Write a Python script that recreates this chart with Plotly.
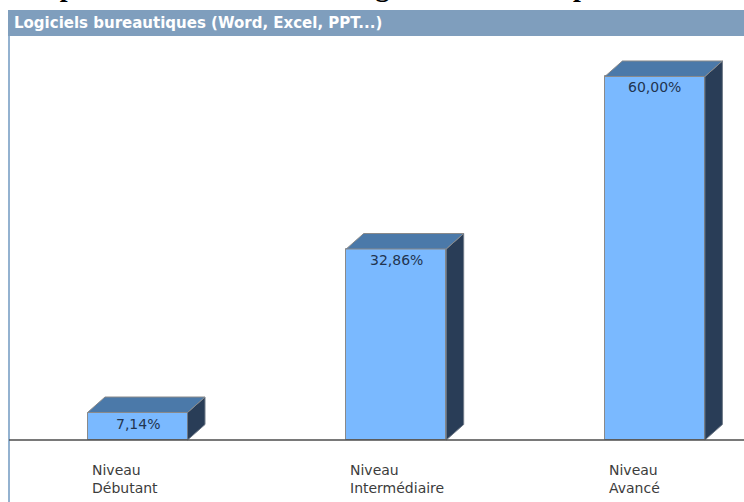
import plotly.graph_objects as go

# Données
niveaux = ["Niveau<br>Débutant", "Niveau<br>Intermédiaire", "Niveau<br>Avancé"]
pourcentages = [7.14, 32.86, 60.00]
etiquettes = ["7,14%", "32,86%", "60,00%"]
titre_cadre = "Logiciels bureautiques (Word, Excel, PPT...)"
titre_page = "Répartition des niveaux en logiciels selon compétences"

W, H = 744, 502
X_RANGE = [-0.5315, 2.3444]
Y_RANGE = [-6.94, 72.03]
ux = (X_RANGE[1] - X_RANGE[0]) / W   # unités x par pixel
uy = (Y_RANGE[1] - Y_RANGE[0]) / H   # unités y par pixel

largeur = 100 * ux
dx, dy = 17.5 * ux, 15.5 * uy
sol = Y_RANGE[1] - 440 * uy          # niveau du sol (ligne de base)

xs = list(range(len(niveaux)))

fig = go.Figure()

# face avant
fig.add_trace(go.Bar(
    x=xs, y=[v - sol for v in pourcentages], base=sol, width=largeur,
    marker=dict(color="#7ab9ff", line=dict(color="#8a8a8a", width=1)),
    hoverinfo="skip"))

# faces latérales et dessus (effet 3D)
for i, v in zip(xs, pourcentages):
    xl, xr = i - largeur / 2, i + largeur / 2
    fig.add_trace(go.Scatter(
        x=[xr, xr + dx, xr + dx, xr, xr], y=[v, v + dy, sol + dy, sol, v],
        fill="toself", fillcolor="#293d57", mode="lines",
        line=dict(color="#6f7a88", width=1), hoverinfo="skip"))
    fig.add_trace(go.Scatter(
        x=[xl, xr, xr + dx, xl + dx, xl], y=[v, v, v + dy, v + dy, v],
        fill="toself", fillcolor="#4b79a9", mode="lines",
        line=dict(color="#8a8a8a", width=1), hoverinfo="skip"))

annotations = []
for i, v, t in zip(xs, pourcentages, etiquettes):
    annotations.append(dict(x=i, y=v, xref="x", yref="y", yanchor="top", yshift=-1,
                            text=t, showarrow=False,
                            font=dict(family="DejaVu Sans", size=14, color="#22344f")))
for i, lab in zip(xs, niveaux):
    annotations.append(dict(x=i - largeur / 2 + 2 * ux, y=1 - 460 / H, xref="x", yref="paper",
                            xanchor="left", yanchor="top", align="left",
                            text=lab, showarrow=False,
                            font=dict(family="DejaVu Sans", size=14, color="#3c3c3c")))
# titre du cadre
annotations.append(dict(x=12 / W, y=1 - 23 / H, xref="paper", yref="paper",
                        xanchor="left", yanchor="middle", text=titre_cadre, showarrow=False,
                        font=dict(family="DejaVu Sans", size=15, color="white", weight="bold")))
# titre de page (coupé en haut, seules les jambages dépassent)
annotations.append(dict(x=25 / W, y=1 - 4 / H, xref="paper", yref="paper",
                        xanchor="left", yanchor="bottom", text=titre_page, showarrow=False,
                        font=dict(family="Liberation Serif", size=28, color="black", weight="bold")))

shapes = [
    dict(type="rect", xref="paper", yref="paper", x0=8 / W, x1=1, y0=1 - 36 / H, y1=1 - 10 / H,
         fillcolor="#7f9ebd", line=dict(width=0)),
    dict(type="line", xref="paper", yref="paper", x0=9 / W, x1=9 / W, y0=0, y1=1 - 36 / H,
         line=dict(color="#94b2d0", width=2)),
    dict(type="line", xref="paper", yref="y", x0=9 / W, x1=1, y0=sol, y1=sol,
         line=dict(color="#4d4d4d", width=1.5)),
]

fig.update_layout(
    width=W, height=H,
    margin=dict(l=0, r=0, t=0, b=0),
    paper_bgcolor="white", plot_bgcolor="white",
    showlegend=False, bargap=0,
    xaxis=dict(range=X_RANGE, visible=False, fixedrange=True),
    yaxis=dict(range=Y_RANGE, visible=False, fixedrange=True),
    annotations=annotations, shapes=shapes,
)

fig.write_html("out.html", config={"displayModeBar": False},
               post_script="document.body.style.margin='0px';")
